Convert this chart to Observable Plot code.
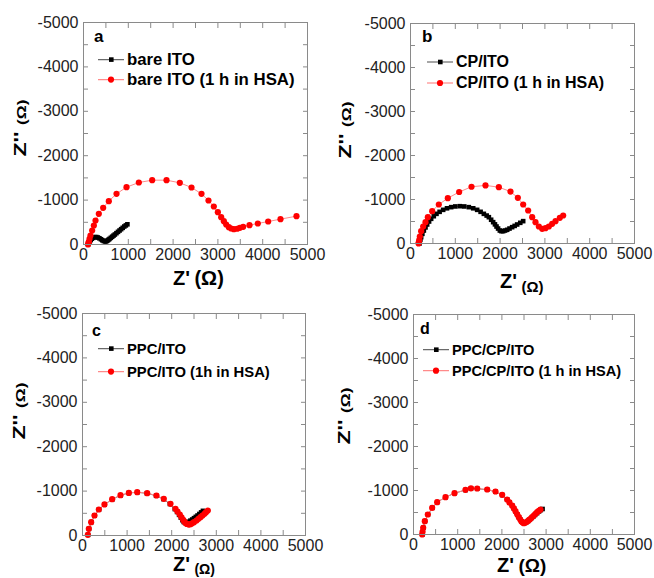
<!DOCTYPE html>
<html><head><meta charset="utf-8">
<script src="https://cdn.jsdelivr.net/npm/d3@7"></script>
<script src="https://cdn.jsdelivr.net/npm/@observablehq/plot@0.6"></script>
<style>
body{margin:0;background:#fff;font-family:"Liberation Sans",Arial,sans-serif;}
#wrap{position:relative;width:654px;height:578px;overflow:hidden;background:#fff}
.panel{position:absolute;width:327px;height:290px}
.panel svg{position:absolute;left:0;top:0}
.lab{position:absolute;white-space:nowrap;color:#000;line-height:1;font-weight:bold}
.row{position:absolute;white-space:nowrap;line-height:1;font-weight:bold;color:#000;display:flex;align-items:center;transform:translateY(-50%)}
.row svg{position:static;margin-right:3px}
.ytitle{position:absolute;white-space:nowrap;line-height:1;font-weight:bold;color:#000}
</style></head>
<body><div id="wrap"></div>
<script>
// ---- tick values ----
const xTickValues = [0, 1000, 2000, 3000, 4000, 5000];
const yTickValues = [0, -1000, -2000, -3000, -4000, -5000];
const xMinorValues = [500, 1000, 1500, 2000, 2500, 3000, 3500, 4000, 4500];
const yMinorValues = [-500, -1000, -1500, -2000, -2500, -3000, -3500, -4000, -4500];

// ---- data: [Z' (ohm), Z'' (ohm)] ----
const a_bareITO = [[110,-10],[125,-40],[140,-70],[160,-100],[185,-130],[215,-150],[250,-165],[285,-168],[320,-158],[355,-140],[390,-118],[420,-96],[450,-80],[480,-70],[505,-70],[530,-85],[555,-105],[580,-125],[610,-150],[640,-175],[670,-200],[700,-225],[735,-255],[770,-285],[805,-315],[840,-345],[875,-375],[910,-405],[945,-430],[980,-455]];
const a_bareITO_HSA = [[100,0],[110,-30],[119,-60],[135,-130],[156,-203],[193,-315],[231,-428],[268,-541],[342,-691],[439,-826],[565,-976],[737,-1141],[960,-1291],[1235,-1396],[1533,-1449],[1853,-1449],[2150,-1389],[2411,-1284],[2634,-1141],[2790,-991],[2909,-856],[2999,-728],[3073,-616],[3133,-526],[3185,-450],[3244,-390],[3296,-360],[3356,-345],[3430,-355],[3490,-375],[3564,-398],[3705,-435],[3891,-473],[4122,-518],[4397,-571],[4754,-638]];

const b_CPITO = [[200,0],[208,-40],[220,-90],[238,-144],[265,-220],[298,-295],[335,-365],[372,-432],[415,-500],[461,-561],[520,-620],[580,-674],[650,-720],[729,-765],[815,-800],[908,-826],[1000,-842],[1101,-848],[1200,-842],[1302,-826],[1400,-800],[1488,-765],[1565,-720],[1637,-674],[1700,-635],[1749,-598],[1800,-540],[1845,-485],[1885,-435],[1920,-386],[1955,-340],[1994,-295],[2030,-280],[2068,-280],[2110,-295],[2158,-311],[2210,-340],[2269,-371],[2325,-400],[2381,-432],[2450,-470],[2515,-508]];
const b_CPITO_HSA = [[180,0],[186,-30],[195,-80],[208,-159],[238,-280],[283,-386],[335,-485],[387,-598],[484,-735],[632,-886],[833,-1030],[1086,-1170],[1362,-1290],[1674,-1320],[1972,-1280],[2232,-1180],[2396,-1038],[2515,-886],[2626,-750],[2716,-598],[2790,-485],[2865,-386],[2939,-333],[3013,-348],[3088,-386],[3162,-447],[3237,-508],[3333,-583],[3408,-636]];

const c_PPCITO = [[125,-15],[145,-150],[198,-300],[272,-450],[370,-585],[497,-700],[668,-815],[855,-905],[1040,-958],[1230,-972],[1445,-950],[1650,-895],[1815,-820],[1960,-710],[2070,-595],[2120,-530],[2165,-465],[2205,-400],[2240,-345],[2270,-305],[2300,-285],[2340,-290],[2380,-310],[2420,-335],[2460,-360],[2500,-390],[2540,-420],[2580,-450],[2620,-485],[2660,-520],[2700,-555]];
const c_PPCITO_HSA = [[120,-15],[142,-150],[194,-300],[269,-450],[366,-586],[493,-700],[665,-818],[852,-908],[1039,-960],[1226,-976],[1450,-953],[1659,-901],[1823,-826],[1973,-713],[2085,-601],[2130,-540],[2182,-473],[2220,-410],[2257,-353],[2280,-320],[2309,-280],[2340,-260],[2384,-245],[2420,-255],[2459,-275],[2500,-300],[2556,-338],[2600,-375],[2646,-413],[2690,-450],[2735,-488],[2770,-525],[2810,-563]];

const d_PPCCPITO = [[200,0],[208,-60],[222,-152],[259,-303],[327,-455],[425,-606],[538,-735],[727,-848],[930,-939],[1178,-1010],[1300,-1045],[1441,-1040],[1667,-1018],[1855,-972],[2006,-898],[2119,-792],[2175,-725],[2232,-655],[2272,-590],[2310,-525],[2348,-455],[2385,-390],[2418,-335],[2448,-295],[2480,-270],[2515,-265],[2550,-280],[2590,-305],[2630,-340],[2670,-375],[2710,-410],[2750,-445],[2795,-485],[2840,-525],[2880,-555],[2920,-580]];
const d_PPCCPITO_HSA = [[196,0],[205,-60],[219,-152],[256,-303],[324,-455],[422,-606],[535,-735],[724,-848],[928,-939],[1176,-1015],[1300,-1050],[1441,-1045],[1667,-1023],[1855,-977],[2006,-901],[2119,-795],[2170,-730],[2232,-659],[2270,-595],[2308,-530],[2345,-460],[2383,-394],[2415,-340],[2443,-295],[2470,-270],[2496,-258],[2535,-270],[2572,-295],[2610,-325],[2647,-356],[2685,-395],[2722,-432],[2760,-470],[2798,-508],[2835,-540],[2873,-568]];

// ---- labels ----
const panelLetters = ["a", "b", "c", "d"];
const blackNames = ["bare ITO", "CP/ITO", "PPC/ITO", "PPC/CP/ITO"];
const redNames = ["bare ITO (1 h in HSA)", "CP/ITO (1 h in HSA)", "PPC/ITO (1h in HSA)", "PPC/CP/ITO (1 h in HSA)"];

const layouts = [
  {left:0, top:0, ml:83, mr:20, mt:22, mb:46, letter:[94,28,17], leg:{sx:98, tx:127, r1:60, r2:80, fs:16.8},
   xt:{x:173, y:268, zs:20, os:20, oy:0}, yt:{cx:21, cy:128}},
  {left:327, top:0, ml:83, mr:20, mt:23, mb:47, letter:[95,28,17], leg:{sx:100, tx:128, r1:62, r2:83, fs:16},
   xt:{x:173, y:271, zs:20, os:15, oy:4}, yt:{cx:19, cy:130}},
  {left:0, top:290, ml:82, mr:22, mt:23, mb:45, letter:[92,33,16], leg:{sx:98, tx:128, r1:59, r2:82, fs:14.8},
   xt:{x:173, y:264, zs:20, os:14, oy:3}, yt:{cx:20, cy:121}},
  {left:327, top:290, ml:86, mr:20, mt:24, mb:46, letter:[93,31,16], leg:{sx:96, tx:122, r1:60, r2:81, fs:14.6},
   xt:{x:170, y:265, zs:20, os:19, oy:0}, yt:{cx:18, cy:126}}
];
const blackSeries = [a_bareITO, b_CPITO, c_PPCITO, d_PPCCPITO];
const redSeries = [a_bareITO_HSA, b_CPITO_HSA, c_PPCITO_HSA, d_PPCCPITO_HSA];

const blackLine = "#6a6a6a", redLine = "#ff8a8a", frameColor = "#8a8a8a";

function swatch(lineColor, fill, square){
  const ns = "http://www.w3.org/2000/svg";
  const s = document.createElementNS(ns, "svg");
  s.setAttribute("width", 26); s.setAttribute("height", 8);
  const l = document.createElementNS(ns, "line");
  l.setAttribute("x1", 0); l.setAttribute("x2", 26); l.setAttribute("y1", 4); l.setAttribute("y2", 4);
  l.setAttribute("stroke", lineColor); l.setAttribute("stroke-width", 1.2);
  s.appendChild(l);
  let m;
  if (square) { m = document.createElementNS(ns, "rect"); m.setAttribute("x", 11); m.setAttribute("y", 1.7); m.setAttribute("width", 4.6); m.setAttribute("height", 4.6); }
  else { m = document.createElementNS(ns, "circle"); m.setAttribute("cx", 13); m.setAttribute("cy", 4); m.setAttribute("r", 3.1); }
  m.setAttribute("fill", fill);
  s.appendChild(m);
  return s;
}

const wrap = document.getElementById("wrap");
layouts.forEach((p, i) => {
  const div = document.createElement("div");
  div.className = "panel";
  div.style.left = p.left + "px"; div.style.top = p.top + "px";
  const X = d => d[0], Y = d => d[1];
  const chart = Plot.plot({
    width: 327, height: 290,
    marginLeft: p.ml, marginRight: p.mr, marginTop: p.mt, marginBottom: p.mb,
    style: {fontFamily: '"Liberation Sans", Arial, sans-serif', fontSize: "16px", background: "transparent", color: "#222", overflow: "visible"},
    x: {domain: [0, 5000]},
    y: {domain: [0, -5000]},
    marks: [
      Plot.axisX(xMinorValues, {anchor: "bottom", tickSize: -5, tickFormat: () => "", stroke: frameColor, label: null}),
      Plot.axisX(xMinorValues, {anchor: "top", tickSize: -5, tickFormat: () => "", stroke: frameColor, label: null}),
      Plot.axisY(yMinorValues, {anchor: "left", tickSize: -5, tickFormat: () => "", stroke: frameColor, label: null}),
      Plot.axisY(yMinorValues, {anchor: "right", tickSize: -5, tickFormat: () => "", stroke: frameColor, label: null}),
      Plot.axisX(xTickValues, {anchor: "bottom", tickSize: 0, tickPadding: 4, tickFormat: d => String(d), fill: "#222", label: null}),
      Plot.axisY(yTickValues, {anchor: "left", tickSize: 0, tickPadding: 5, tickFormat: d => String(d), fill: "#222", label: null}),
      Plot.line(blackSeries[i], {x: X, y: Y, stroke: blackLine, strokeWidth: 1}),
      Plot.dot(blackSeries[i], {x: X, y: Y, symbol: "square", r: 2.6, fill: "#000", stroke: null}),
      Plot.line(redSeries[i], {x: X, y: Y, stroke: redLine, strokeWidth: 1}),
      Plot.dot(redSeries[i], {x: X, y: Y, symbol: "circle", r: 3.1, fill: "#ff0000", stroke: null}),
      Plot.frame({stroke: frameColor})
    ]
  });
  div.appendChild(chart);

  // panel letter
  const lt = document.createElement("div");
  lt.className = "lab"; lt.textContent = panelLetters[i];
  lt.style.left = p.letter[0] + "px"; lt.style.top = p.letter[1] + "px"; lt.style.fontSize = p.letter[2] + "px";
  div.appendChild(lt);

  // legend rows
  [[blackNames[i], blackLine, "#000", true, p.leg.r1], [redNames[i], redLine, "#ff0000", false, p.leg.r2]].forEach(([name, lc, fc, sq, ry]) => {
    const r = document.createElement("div");
    r.className = "row";
    r.style.left = p.leg.sx + "px"; r.style.top = ry + "px"; r.style.fontSize = p.leg.fs + "px";
    r.appendChild(swatch(lc, fc, sq));
    const t = document.createElement("span"); t.textContent = name;
    r.appendChild(t);
    div.appendChild(r);
  });

  // x title
  const xt = document.createElement("div");
  xt.className = "lab";
  xt.style.left = p.xt.x + "px"; xt.style.top = p.xt.y + "px";
  xt.innerHTML = `<span style="font-size:${p.xt.zs}px">Z'</span> <span style="font-size:${p.xt.os}px;position:relative;top:${p.xt.oy}px">(Ω)</span>`;
  div.appendChild(xt);

  // y title
  const yt = document.createElement("div");
  yt.className = "ytitle";
  yt.style.left = p.yt.cx + "px"; yt.style.top = p.yt.cy + "px";
  yt.style.transform = "translate(-50%,-50%) rotate(-90deg) scaleX(1.45)";
  yt.innerHTML = `<span style="font-size:16px">Z''</span> <span style="font-size:12px">(Ω)</span>`;
  div.appendChild(yt);

  wrap.appendChild(div);
});
</script>
</body></html>
